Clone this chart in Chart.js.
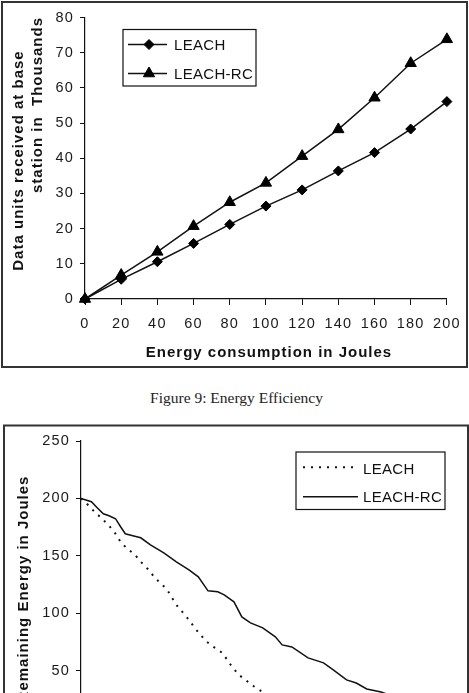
<!DOCTYPE html>
<html><head><meta charset="utf-8">
<script src="https://cdn.jsdelivr.net/npm/chart.js@4.4.0/dist/chart.umd.min.js"></script>
<style>
html,body{margin:0;padding:0;background:#fff;width:469px;height:693px;overflow:hidden;position:relative;}
#c1{position:absolute;left:0;top:0;}
#c2{position:absolute;left:0;top:420px;}
#cap{position:absolute;left:2px;width:469px;top:389px;line-height:17px;text-align:center;font-size:15.5px;font-family:'Liberation Serif','Times New Roman',serif;color:#222;white-space:nowrap;}
</style></head><body>
<canvas id="c1" width="469" height="372"></canvas>
<div id="cap">Figure 9: Energy Efficiency</div>
<canvas id="c2" width="469" height="380"></canvas>
<script>
// ---------- Data: Figure 9 (top chart) ----------
const energyJoules = [0, 20, 40, 60, 80, 100, 120, 140, 160, 180, 200];
const leachReceived = [0, 5.6, 10.6, 15.8, 21.2, 26.4, 31.0, 36.4, 41.6, 48.3, 56.1];
const leachRcReceived = [0, 6.8, 13.4, 20.7, 27.5, 33.0, 40.6, 48.2, 57.2, 67.0, 73.8];
const xTicksTop = [0, 20, 40, 60, 80, 100, 120, 140, 160, 180, 200];
const yTicksTop = [0, 10, 20, 30, 40, 50, 60, 70, 80];

// ---------- Data: remaining energy (bottom chart) ----------
const leachRounds = [0, 19, 40, 56, 78, 94, 110, 126, 150, 166, 185, 201, 219, 238, 265, 300, 316, 332, 350, 372, 393, 420, 439, 457, 479, 500, 530, 570, 620, 680, 740];
const leachEnergy = [200, 194.5, 187.5, 183.2, 176.2, 170.1, 162.2, 157.0, 150.9, 144.8, 138.7, 132.6, 126.5, 121.2, 107.3, 94.2, 87.2, 81.1, 75.0, 69.8, 65.4, 53.2, 46.2, 41.9, 36.6, 32.3, 27, 21, 14, 7, 0];
const leachRcRounds = [0, 29, 45, 62, 78, 96, 110, 123, 144, 166, 193, 230, 265, 300, 326, 353, 380, 398, 425, 447, 471, 505, 540, 559, 586, 631, 674, 701, 738, 765, 794, 834, 880, 930, 980];
const leachRcEnergy = [200, 197.1, 191.9, 186.6, 184.9, 182.3, 175.3, 169.2, 167.5, 165.7, 159.6, 152.6, 144.8, 137.8, 131.7, 119.5, 118.6, 116.0, 109.9, 96.8, 91.6, 87.2, 79.4, 72.4, 70.6, 61.1, 56.7, 50.6, 41.9, 39.2, 34.0, 31.4, 26, 19, 12];
const xTicksBottom = [0, 200, 400, 600, 800, 1000];
const yTicksBottom = [0, 50, 100, 150, 200, 250];

const seriesNames = ['LEACH', 'LEACH-RC'];

Chart.defaults.font.family = "'Liberation Sans', Arial, Helvetica, sans-serif";
Chart.defaults.color = '#1a1a1a';

const framePlugin = {
  id: 'frame',
  beforeDraw(chart, args, o) {
    const c = chart.ctx;
    c.save();
    c.strokeStyle = o.color; c.lineWidth = o.width;
    c.strokeRect(o.rect[0], o.rect[1], o.rect[2], o.rect[3]);
    c.restore();
    c.letterSpacing = o.tickSpacing;
  }
};

const titlesPlugin = {
  id: 'axisTitles',
  afterDraw(chart, args, o) {
    const c = chart.ctx;
    c.save();
    c.fillStyle = '#111';
    c.font = o.font;
    c.letterSpacing = o.spacing;
    o.items.forEach(t => {
      c.save();
      c.translate(t.x, t.y);
      if (t.rotate) c.rotate(-Math.PI / 2);
      c.textAlign = t.align;
      c.textBaseline = 'alphabetic';
      c.fillText(t.text, 0, 0);
      c.restore();
    });
    c.restore();
  }
};

const legendPlugin = {
  id: 'boxLegend',
  afterDraw(chart, args, o) {
    const c = chart.ctx;
    c.save();
    c.letterSpacing = o.spacing;
    c.strokeStyle = '#111'; c.lineWidth = 1.2;
    c.strokeRect(o.box[0], o.box[1], o.box[2], o.box[3]);
    chart.data.datasets.forEach((ds, i) => {
      const y = o.lineY[i];
      c.beginPath();
      c.setLineDash(ds.borderDash || []);
      c.lineWidth = ds.borderWidth; c.strokeStyle = ds.borderColor;
      c.moveTo(o.lineX[0], y); c.lineTo(o.lineX[1], y); c.stroke();
      c.setLineDash([]);
      if (ds.pointRadius > 0) {
        c.fillStyle = ds.pointBackgroundColor; c.strokeStyle = ds.pointBorderColor; c.lineWidth = 1;
        Chart.helpers.drawPoint(c, {pointStyle: ds.pointStyle, radius: ds.pointRadius, borderWidth: 1, rotation: 0}, o.markerX, y);
      }
      c.fillStyle = '#111'; c.font = o.font; c.textAlign = 'left'; c.textBaseline = 'alphabetic';
      c.fillText(ds.label, o.textX, o.textY[i]);
    });
    c.restore();
  }
};

const tickFont = {size: 14.5};
function axisStyle(tickLen) {
  return {
    grid: {drawOnChartArea: false, drawTicks: true, tickLength: tickLen, tickColor: '#111', tickWidth: 1},
    border: {display: true, color: '#111', width: 1.2}
  };
}

// ---------- Top chart ----------
new Chart(document.getElementById('c1'), {
  type: 'line',
  data: {
    datasets: [
      {label: seriesNames[0], data: energyJoules.map((x, i) => ({x, y: leachReceived[i]})),
       borderColor: '#111', borderWidth: 1.5, pointStyle: 'rectRot', pointRadius: 5,
       pointBackgroundColor: '#000', pointBorderColor: '#000', pointBorderWidth: 1, tension: 0, clip: false},
      {label: seriesNames[1], data: energyJoules.map((x, i) => ({x, y: leachRcReceived[i]})),
       borderColor: '#111', borderWidth: 1.5, pointStyle: 'triangle', pointRadius: 6.5,
       pointBackgroundColor: '#000', pointBorderColor: '#000', pointBorderWidth: 1, tension: 0, clip: false}
    ]
  },
  options: {
    responsive: false, animation: false, devicePixelRatio: 1, events: [],
    layout: {padding: {top: 17.5, right: 15, bottom: 0, left: 0}},
    scales: {
      x: Object.assign({type: 'linear', min: xTicksTop[0], max: xTicksTop[xTicksTop.length - 1],
        ticks: {stepSize: xTicksTop[1] - xTicksTop[0], autoSkip: false, maxRotation: 0, padding: 10, font: tickFont},
        afterFit(s) { s.height = 73; }}, axisStyle(6)),
      y: Object.assign({type: 'linear', min: yTicksTop[0], max: yTicksTop[yTicksTop.length - 1],
        ticks: {stepSize: yTicksTop[1] - yTicksTop[0], padding: 6, font: tickFont},
        afterFit(s) { s.width = 85; }}, axisStyle(5))
    },
    plugins: {
      legend: {display: false}, tooltip: {enabled: false},
      frame: {rect: [2, 2, 465, 365], color: '#333', width: 2, tickSpacing: '1.2px'},
      axisTitles: {font: "bold 15px 'Liberation Sans', Arial, sans-serif", spacing: '1px', items: [
        {text: 'Data units received at base', x: 23, y: 160.5, rotate: true, align: 'center'},
        {text: 'station in  Thousands', x: 42, y: 193, rotate: true, align: 'left'},
        {text: 'Energy consumption in Joules', x: 269, y: 356.5, rotate: false, align: 'center'}
      ]},
      boxLegend: {box: [123, 29.5, 133, 56.5], lineX: [128, 167], markerX: 149, lineY: [44.5, 73.5],
        textX: 174, textY: [50, 79], font: "15px 'Liberation Sans', Arial, sans-serif", spacing: '0.3px'}
    }
  },
  plugins: [framePlugin, titlesPlugin, legendPlugin]
});

// ---------- Bottom chart ----------
new Chart(document.getElementById('c2'), {
  type: 'line',
  data: {
    datasets: [
      {label: seriesNames[0], data: leachRounds.map((x, i) => ({x, y: leachEnergy[i]})),
       borderColor: '#111', borderWidth: 2, borderDash: [2, 6], pointRadius: 0, tension: 0},
      {label: seriesNames[1], data: leachRcRounds.map((x, i) => ({x, y: leachRcEnergy[i]})),
       borderColor: '#111', borderWidth: 1.5, pointRadius: 0, tension: 0}
    ]
  },
  options: {
    responsive: false, animation: false, devicePixelRatio: 1, events: [],
    layout: {padding: {top: 21, right: 14, bottom: 0, left: 0}},
    scales: {
      x: Object.assign({type: 'linear', min: xTicksBottom[0], max: xTicksBottom[xTicksBottom.length - 1],
        ticks: {stepSize: xTicksBottom[1] - xTicksBottom[0], autoSkip: false, maxRotation: 0, padding: 10, font: tickFont},
        afterFit(s) { s.height = 72; }}, axisStyle(6)),
      y: Object.assign({type: 'linear', min: yTicksBottom[0], max: yTicksBottom[yTicksBottom.length - 1],
        ticks: {stepSize: yTicksBottom[1] - yTicksBottom[0], padding: 6, font: tickFont},
        afterFit(s) { s.width = 81; }}, axisStyle(5))
    },
    plugins: {
      legend: {display: false}, tooltip: {enabled: false},
      frame: {rect: [4, 5.5, 464, 500], color: '#333', width: 2, tickSpacing: '1.2px'},
      axisTitles: {font: "bold 15px 'Liberation Sans', Arial, sans-serif", spacing: '1px', items: [
        {text: 'Remaining Energy in Joules', x: 28, y: 169, rotate: true, align: 'center'}
      ]},
      boxLegend: {box: [296, 32, 149, 57.5], lineX: [303, 358], markerX: 330, lineY: [47.3, 76.7],
        textX: 363, textY: [54, 82], font: "15px 'Liberation Sans', Arial, sans-serif", spacing: '0.3px'}
    }
  },
  plugins: [framePlugin, titlesPlugin, legendPlugin]
});
</script>
</body></html>
